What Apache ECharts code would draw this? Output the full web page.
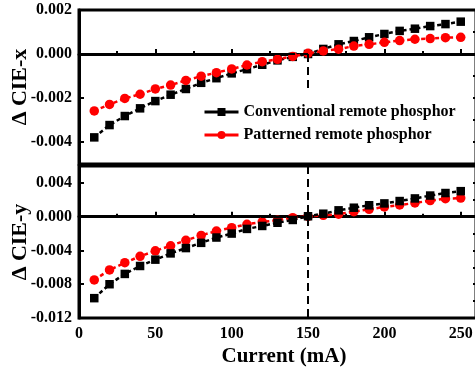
<!DOCTYPE html>
<html><head><meta charset="utf-8">
<script src="https://cdn.jsdelivr.net/npm/echarts@6/dist/echarts.min.js"></script>
<style>html,body{margin:0;padding:0;background:#fff}#c{width:475px;height:374px}</style>
</head><body><div id="c"></div>
<script>
const current = [10,20,30,40,50,60,70,80,90,100,110,120,130,140,150,160,170,180,190,200,210,220,230,240,250];
const cieXConventional = [-0.00379,-0.00323,-0.00282,-0.00247,-0.00214,-0.00185,-0.00159,-0.00131,-0.00110,-0.00088,-0.00069,-0.00049,-0.00029,-0.00013,0.00000,0.00023,0.00044,0.00059,0.00076,0.00091,0.00105,0.00115,0.00127,0.00136,0.00147];
const cieXPatterned   = [-0.00259,-0.00229,-0.00202,-0.00183,-0.00159,-0.00141,-0.00120,-0.00101,-0.00085,-0.00068,-0.00050,-0.00035,-0.00024,-0.00011,0.00003,0.00014,0.00022,0.00036,0.00044,0.00053,0.00061,0.00067,0.00070,0.00074,0.00076];
const cieYConventional = [-0.00965,-0.00800,-0.00678,-0.00584,-0.00509,-0.00435,-0.00372,-0.00310,-0.00247,-0.00200,-0.00145,-0.00110,-0.00072,-0.00039,0.00005,0.00035,0.00075,0.00106,0.00135,0.00157,0.00185,0.00216,0.00250,0.00280,0.00302];
const cieYPatterned   = [-0.00749,-0.00631,-0.00545,-0.00470,-0.00404,-0.00345,-0.00280,-0.00222,-0.00170,-0.00130,-0.00090,-0.00062,-0.00043,-0.00012,0.00003,0.00016,0.00030,0.00059,0.00087,0.00115,0.00138,0.00162,0.00190,0.00212,0.00220];
const xTicks = [0,50,100,150,200,250];
const yTicksTop = [-0.004,-0.002,0,0.002];
const yTicksBottom = [-0.012,-0.008,-0.004,0,0.004];
const seriesNames = ['Conventional remote phosphor','Patterned remote phosphor'];

const FONT = '"Liberation Serif","Times New Roman",serif';
const pair = (xs, ys) => xs.map((x, i) => [x, ys[i]]);
const fmt = v => (Math.abs(v) < 1e-9 ? 0 : v).toFixed(3);

function xAxis(gi, showLabels) {
  return {
    type: 'value', gridIndex: gi, min: 0, max: 260, interval: 50,
    axisLine: {show: true, lineStyle: {color: '#000', width: 3}},
    axisTick: {show: true, inside: true, length: 5, customValues: xTicks, lineStyle: {color: '#000', width: 2}},
    minorTick: {show: true, splitNumber: 2, length: 3, lineStyle: {color: '#000', width: 2}},
    splitLine: {show: false},
    axisLabel: {show: showLabels, customValues: xTicks, margin: 8, color: '#000',
      fontFamily: FONT, fontWeight: 'bold', fontSize: 16},
    name: showLabels ? 'Current (mA)' : '', nameLocation: 'middle', nameGap: 28, nameMoveOverlap: false,
    nameTextStyle: {fontFamily: FONT, fontWeight: 'bold', fontSize: 21, color: '#000', padding: [0,0,0,13]}
  };
}
function yMain(gi, min, max, interval, ticks, name) {
  return {
    type: 'value', gridIndex: gi, min: min, max: max, interval: interval,
    axisLine: {show: true, lineStyle: {color: '#000', width: 3}},
    axisTick: {show: true, inside: true, length: 5, customValues: ticks, lineStyle: {color: '#000', width: 2}},
    splitLine: {show: false},
    axisLabel: {customValues: ticks, formatter: fmt, margin: 7, color: '#000',
      fontFamily: FONT, fontWeight: 'bold', fontSize: 16},
    name: name, nameLocation: 'middle', nameGap: 48, nameMoveOverlap: false,
    nameTextStyle: {fontFamily: FONT, fontWeight: 'bold', fontSize: 22, color: '#000'}
  };
}
function yMinor(gi, min, max, interval) {
  return {
    type: 'value', gridIndex: gi, min: min, max: max, interval: interval,
    axisLine: {show: false}, splitLine: {show: false}, axisLabel: {show: false},
    axisTick: {show: true, inside: true, length: 3, lineStyle: {color: '#000', width: 2}}
  };
}
const dashStyle = {color: '#000', width: 2, type: [8, 5]};
function lineSeries(name, data, xi, yi, color, symbol, size, z) {
  return {
    type: 'line', name: name, data: data, xAxisIndex: xi, yAxisIndex: yi,
    symbol: symbol, symbolSize: size, z: z,
    itemStyle: {color: color},
    lineStyle: {color: color, width: 2.5, type: [4, 3]},
    animation: false
  };
}

const chart = echarts.init(document.getElementById('c'), null, {renderer: 'canvas'});
chart.setOption({
  backgroundColor: '#fff',
  animation: false,
  grid: [
    {left: 79, top: 10, width: 397, height: 154, outerBoundsMode: 'none', containLabel: false, show: true, borderColor: '#000', borderWidth: 3, backgroundColor: 'transparent'},
    {left: 79, top: 166, width: 397, height: 152, outerBoundsMode: 'none', containLabel: false, show: true, borderColor: '#000', borderWidth: 3, backgroundColor: 'transparent'}
  ],
  xAxis: [xAxis(0, false), xAxis(1, true)],
  yAxis: [
    yMain(0, -0.005, 0.002, 0.001, yTicksTop, 'Δ CIE-x'),
    yMain(1, -0.012, 0.006, 0.002, yTicksBottom, 'Δ CIE-y'),
    yMinor(0, -0.005, 0.002, 0.001),
    yMinor(1, -0.012, 0.006, 0.002)
  ],
  legend: {
    data: seriesNames, orient: 'vertical', left: 203, top: 104, padding: 0,
    itemWidth: 34, itemHeight: 10, itemGap: 7,
    lineStyle: {type: 'solid', width: 3},
    textStyle: {fontFamily: FONT, fontWeight: 'bold', fontSize: 16, color: '#000'}
  },
  series: [
    {type: 'line', data: [], xAxisIndex: 0, yAxisIndex: 0, z: 1, silent: true,
      markLine: {silent: true, symbol: 'none', label: {show: false}, lineStyle: dashStyle, animation: false,
        data: [[{coord: [0, 0]}, {coord: [150, 0]}], [{coord: [150, 0]}, {coord: [150, -0.0016]}]]}},
    {type: 'line', data: [], xAxisIndex: 1, yAxisIndex: 1, z: 1, silent: true,
      markLine: {silent: true, symbol: 'none', label: {show: false}, lineStyle: dashStyle, animation: false,
        data: [[{coord: [0, 0]}, {coord: [150, 0]}], [{coord: [150, 0.006]}, {coord: [150, -0.012]}]]}},
    lineSeries(seriesNames[0], pair(current, cieXConventional), 0, 0, '#000', 'rect', 8.5, 3),
    lineSeries(seriesNames[1], pair(current, cieXPatterned), 0, 0, '#ff0000', 'circle', 9.5, 4),
    lineSeries(seriesNames[1], pair(current, cieYPatterned), 1, 1, '#ff0000', 'circle', 9.5, 3),
    lineSeries(seriesNames[0], pair(current, cieYConventional), 1, 1, '#000', 'rect', 8.5, 4)
  ]
});
</script></body></html>
